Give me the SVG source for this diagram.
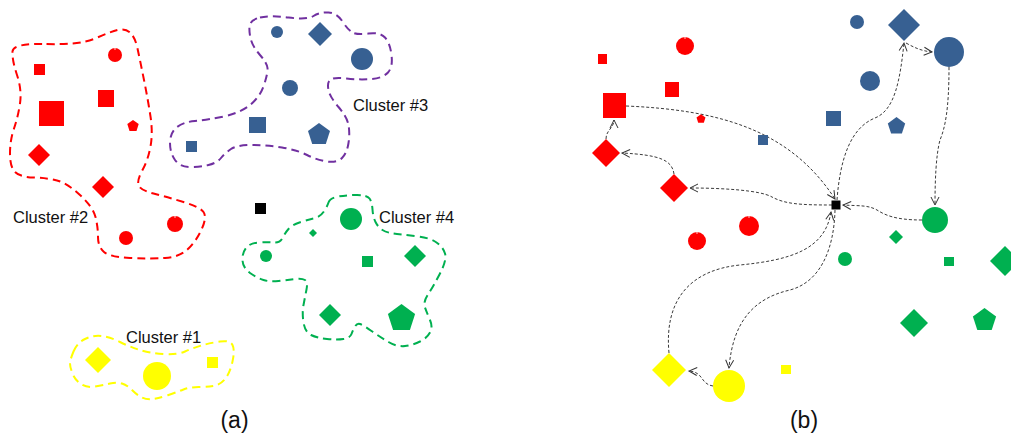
<svg xmlns="http://www.w3.org/2000/svg" width="1011" height="434" viewBox="0 0 1011 434">
<style>
.r{fill:#FF0000}.b{fill:#376092}.g{fill:#00B050}.y{fill:#FFFF00}.k{fill:#000}
.notch{fill:#ffc8c8}
.hull{fill:none;stroke-width:2;stroke-dasharray:8 5}
.lbl{font-family:"Liberation Sans",Arial,sans-serif;font-size:16.5px;fill:#111}
.cap{font-family:"Liberation Sans",Arial,sans-serif;font-size:23px;fill:#111;text-anchor:middle}
#connectors path{fill:none;stroke:#3a3a3a;stroke-width:1;stroke-dasharray:3 2;marker-end:url(#arr)}
</style>
<defs>
<marker id="arr" viewBox="-10 -6 12 12" refX="0" refY="0" markerWidth="12" markerHeight="12" orient="auto" markerUnits="userSpaceOnUse">
<path d="M-8,-4 L0,0 L-8,4" fill="none" stroke="#333" stroke-width="1"/>
</marker>
</defs>
<rect width="1011" height="434" fill="#fff"/>

<!-- Panel (a) -->
<g id="cluster2">
<path class="hull" stroke="#FF0000" d="M46.5,44 Q80,45 95,38.5 Q110,32 117.5,30 Q125,28 130,32.5 Q135,37 137.5,48.5 Q140,60 144,80 Q148,100 150.5,116.5 Q153,133 150.5,146.5 Q148,160 142.5,170 Q137,180 138.5,185 Q140,190 153.5,193.5 Q167,197 183.5,202 Q200,207 203.5,212 Q207,217 202,228.5 Q197,240 188.5,248.5 Q180,257 165,258 Q150,259 130,258 Q110,257 104,252 Q98,247 98,237 Q98,227 95.5,217 Q93,207 80,195 Q67,183 57,180.5 Q47,178 33.5,177.5 Q20,177 15,172 Q10,167 10,153.5 Q10,140 14,128.5 Q18,117 20,103.5 Q22,90 17,75 Q12,60 12.5,51.5 Q13,43 46.5,44 Z"/>
<rect class="r" x="34" y="64" width="11" height="11"/>
<circle class="r" cx="115" cy="55" r="7"/><rect class="notch" x="114.4" y="48" width="1.2" height="1.8"/>
<rect class="r" x="39" y="101" width="25" height="25"/>
<rect class="r" x="98" y="90" width="16" height="17"/>
<polygon class="r" points="133,120 138.7,124.1 136.5,130.9 129.5,130.9 127.3,124.1"/>
<polygon class="r" points="39,144 50,155 39,166 28,155"/>
<polygon class="r" points="103,176 114,187 103,198 92,187"/>
<circle class="r" cx="175" cy="224" r="8"/><rect class="notch" x="174.4" y="216" width="1.2" height="1.8"/>
<circle class="r" cx="126" cy="238" r="7"/>
<text class="lbl" x="13" y="223">Cluster #2</text>
</g>

<g id="cluster3">
<path class="hull" stroke="#7030A0" d="M260,17.5 Q270,15 288.5,17.5 Q307,20 313.5,16 Q320,12 328.5,12.5 Q337,13 342.5,21.5 Q348,30 352.5,32.5 Q357,35 368.5,33.5 Q380,32 385,37.5 Q390,43 391.5,55 Q393,67 388,72.5 Q383,78 371.5,79 Q360,80 346.5,78.5 Q333,77 330,80 Q327,83 328.5,90 Q330,97 338.5,107 Q347,117 348.5,125 Q350,133 348.5,143 Q347,153 342,158 Q337,163 327,161.5 Q317,160 307,155 Q297,150 282,147.5 Q267,145 252,145 Q237,145 231,149 Q225,153 221,158 Q217,163 208.5,165 Q200,167 190,167 Q180,167 175,160 Q170,153 170,143 Q170,133 176.5,127.5 Q183,122 195,121 Q207,120 223.5,116.5 Q240,113 250,105 Q260,97 264,85 Q268,73 267.5,68 Q267,63 260,55 Q253,47 251,40 Q249,33 249.5,26.5 Q250,20 260,17.5 Z"/>
<circle class="b" cx="277" cy="32" r="6"/>
<polygon class="b" points="320,22 332,34 320,46 308,34"/>
<circle class="b" cx="362" cy="59" r="11"/>
<circle class="b" cx="290" cy="88" r="8"/>
<rect class="b" x="249" y="117" width="17" height="16"/>
<polygon class="b" points="319,123 330,131 325.8,144 312.2,144 308,131"/>
<rect class="b" x="186" y="141" width="11" height="11"/>
<text class="lbl" x="353" y="111">Cluster #3</text>
</g>

<g id="outlier-a">
<rect class="k" x="255" y="203" width="11" height="11"/>
</g>

<g id="cluster4">
<path class="hull" stroke="#00B050" d="M328.5,202.5 Q330,198 338.5,196.5 Q347,195 357,195 Q367,195 369.5,198.5 Q372,202 372.5,209.5 Q373,217 375.5,222 Q378,227 382.5,230 Q387,233 397,234 Q407,235 418.5,236.5 Q430,238 436.5,242.5 Q443,247 445,253.5 Q447,260 440,273.5 Q433,287 428,294.5 Q423,302 425,307.5 Q427,313 430,320 Q433,327 430,332.5 Q427,338 420,341.5 Q413,345 405,346 Q397,347 388.5,342 Q380,337 371.5,331 Q363,325 360,324 Q357,323 355,326.5 Q353,330 351.5,334 Q350,338 343.5,339 Q337,340 327,339 Q317,338 311,335 Q305,332 303.5,322.5 Q302,313 303.5,305 Q305,297 306.5,289.5 Q308,282 305,280 Q302,278 294.5,279 Q287,280 278.5,281 Q270,282 263.5,280 Q257,278 250,273 Q243,268 242.5,260.5 Q242,253 246,248 Q250,243 258.5,242.5 Q267,242 273.5,242.5 Q280,243 282.5,238 Q285,233 288.5,229 Q292,225 299.5,222.5 Q307,220 313.5,218.5 Q320,217 323.5,212 Q327,207 328.5,202.5 Z"/>
<circle class="g" cx="351" cy="219" r="11"/>
<polygon class="g" points="313,229 317,233 313,237 309,233"/>
<circle class="g" cx="266" cy="256" r="6"/>
<rect class="g" x="362" y="256" width="11" height="11"/>
<polygon class="g" points="415,245 426,256 415,267 404,256"/>
<polygon class="g" points="330,304 341,315 330,326 319,315"/>
<polygon class="g" points="401.5,304 415.1,313.9 409.9,329.9 393.1,329.9 387.9,313.9"/>
<text class="lbl" x="379" y="223">Cluster #4</text>
</g>

<g id="cluster1">
<path class="hull" stroke="#FFFF00" d="M73.5,351.5 Q77,343 85,339 Q93,335 101.5,336 Q110,337 120,342 Q130,347 140,350 Q150,353 163.5,354 Q177,355 185,351.5 Q193,348 201.5,345.5 Q210,343 220,341.5 Q230,340 232.5,345 Q235,350 232.5,361.5 Q230,373 225,379 Q220,385 213.5,386 Q207,387 198.5,387 Q190,387 183.5,389.5 Q177,392 168.5,395 Q160,398 153.5,399 Q147,400 142,397.5 Q137,395 132,390 Q127,385 122,383.5 Q117,382 110,383.5 Q103,385 95,386.5 Q87,388 81,384 Q75,380 72.5,373.5 Q70,367 70,363.5 Q70,360 73.5,351.5 Z"/>
<polygon class="y" points="98,347 111,360 98,373 85,360"/>
<circle class="y" cx="157" cy="376" r="14"/>
<rect class="y" x="207" y="357" width="11" height="11"/>
<text class="lbl" x="126" y="343">Cluster #1</text>
</g>

<g id="caption-a"><text class="cap" x="234.5" y="428">(a)</text></g>

<!-- Panel (b) -->
<g id="connectors">
<path d="M626,106 C720,110 790,130 835,199"/>
<path d="M832,205 C800,205 785,204 772,197 C760,190 720,188 690,188"/>
<path d="M674,174 C672,160 660,155 622,153"/>
<path d="M606,139 C606,130 614,128 614,120"/>
<path d="M837,200 C840,160 850,128 875,118 C895,110 900,80 904,43"/>
<path d="M906,43 C915,48 922,51 932,52"/>
<path d="M949,67 C949,110 945,128 940,140 C936,155 935,180 935,205"/>
<path d="M922,220 C895,220 885,215 877,210 C868,205 860,206 843,205"/>
<path d="M835,210 C834,250 820,282 790,290 C755,298 733,320 729,368"/>
<path d="M713,386 C700,384 704,372 689,371"/>
<path d="M669,353 C664,300 690,270 740,265 C790,260 825,250 831,212"/>
</g>

<g id="n-red-circle-1"><circle class="r" cx="685" cy="46" r="9"/><rect class="notch" x="684.4" y="37" width="1.2" height="1.8"/></g>
<g id="n-red-sq-small"><rect class="r" x="598" y="54" width="9" height="10"/></g>
<g id="n-red-sq-mid"><rect class="r" x="665" y="82" width="14" height="15"/></g>
<g id="n-red-sq-big"><rect class="r" x="603" y="93" width="23" height="25"/></g>
<g id="n-red-pent"><polygon class="r" points="701,114.3 705.5,117.5 703.8,122.8 698.2,122.8 696.5,117.5"/></g>
<g id="n-red-dia-1"><polygon class="r" points="606,139 620,153 606,167 592,153"/></g>
<g id="n-red-dia-2"><polygon class="r" points="674,174 688,188 674,202 660,188"/></g>
<g id="n-red-circle-2"><circle class="r" cx="749" cy="226" r="10"/><rect class="notch" x="748.4" y="216" width="1.2" height="1.8"/></g>
<g id="n-red-circle-3"><circle class="r" cx="697" cy="241" r="9"/><rect class="notch" x="696.4" y="232" width="1.2" height="1.8"/></g>
<g id="n-blue-sq-small"><rect class="b" x="758" y="135" width="10" height="10"/></g>
<g id="n-blue-sq"><rect class="b" x="826" y="111" width="15" height="15"/></g>
<g id="n-blue-circle-small"><circle class="b" cx="857" cy="22" r="7"/></g>
<g id="n-blue-dia"><polygon class="b" points="904,9 920,25 904,41 888,25"/></g>
<g id="n-blue-circle-big"><circle class="b" cx="949" cy="52" r="15"/></g>
<g id="n-blue-circle"><circle class="b" cx="870" cy="81" r="10"/></g>
<g id="n-blue-pent"><polygon class="b" points="896.5,117 905.2,123.4 901.9,133.6 891.1,133.6 887.8,123.4"/></g>
<g id="n-center"><rect class="k" x="831.5" y="200.5" width="9" height="9"/></g>
<g id="n-green-circle-big"><circle class="g" cx="935" cy="220" r="13"/></g>
<g id="n-green-dia-small"><polygon class="g" points="896,230 903,237 896,244 889,237"/></g>
<g id="n-green-circle"><circle class="g" cx="845" cy="259" r="7"/></g>
<g id="n-green-sq"><rect class="g" x="944" y="257" width="10" height="9"/></g>
<g id="n-green-dia-edge"><polygon class="g" points="1005,246 1020,261 1005,276 990,261"/></g>
<g id="n-green-dia"><polygon class="g" points="914,309 928,323 914,337 900,323"/></g>
<g id="n-green-pent"><polygon class="g" points="984.5,308 996.1,316.4 991.7,330.1 977.3,330.1 972.9,316.4"/></g>
<g id="n-yellow-dia"><polygon class="y" points="669,353 686,370 669,387 652,370"/></g>
<g id="n-yellow-circle"><circle class="y" cx="729" cy="386" r="16"/></g>
<g id="n-yellow-sq"><rect class="y" x="781" y="365" width="10" height="9"/></g>

<g id="caption-b"><text class="cap" x="804" y="428">(b)</text></g>
</svg>
